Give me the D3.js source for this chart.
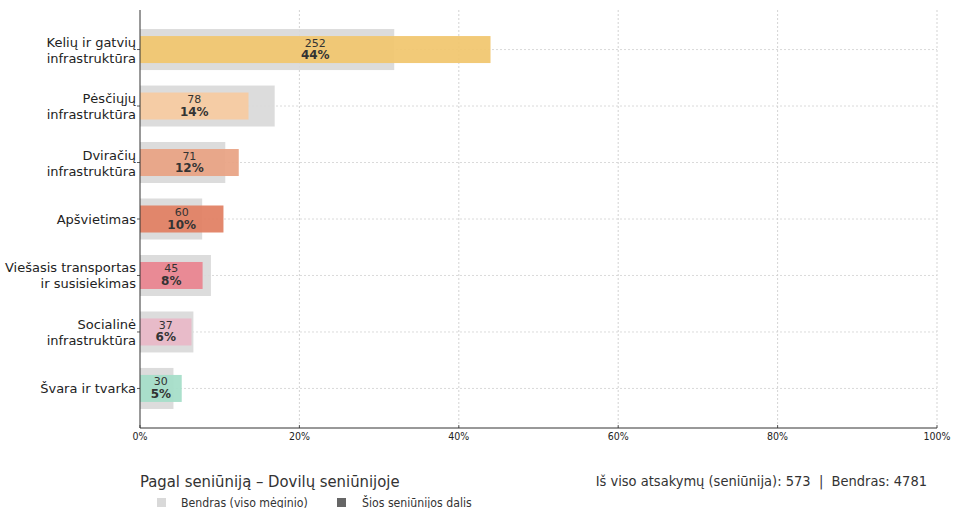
<!DOCTYPE html>
<html><head><meta charset="utf-8">
<script src="https://cdn.jsdelivr.net/npm/d3@7"></script>
<style>body{margin:0;background:#fff;} svg{display:block;}</style>
</head><body>
<script>
const categories = [
  ["Kelių ir gatvių","infrastruktūra"],
  ["Pėsčiųjų","infrastruktūra"],
  ["Dviračių","infrastruktūra"],
  ["Apšvietimas"],
  ["Viešasis transportas","ir susisiekimas"],
  ["Socialinė","infrastruktūra"],
  ["Švara ir tvarka"]
];
const counts = [252, 78, 71, 60, 45, 37, 30];
const totalLocal = 573;
const totalAll = 4781;
const overallPct = [31.9, 16.9, 10.7, 7.8, 8.9, 6.7, 4.2];
const colors = ["#f1c66e","#f6caa0","#e8a283","#e17f62","#e9838f","#e8b8c7","#a5dec8"];
const xTicks = [0, 20, 40, 60, 80, 100];
const title = "Pagal seniūniją – Dovilų seniūnijoje";
const legendLabels = ["Bendras (viso mėginio)", "Šios seniūnijos dalis"];

(function(){
const W = 953, H = 508;
const pl = 140, pr = 937, pt = 10, pb = 428;
const svg = d3.select("body").append("svg").attr("width", W).attr("height", H);
const x = d3.scaleLinear().domain([0, 100]).range([pl, pr]);
const idx = d3.range(categories.length);
const y = d3.scalePoint().domain(idx).range([pt, pb]).padding(0.7);
const font = "DejaVu Sans, sans-serif";

// grid
const g = svg.append("g");
g.selectAll(".vg").data(xTicks.slice(1)).join("line")
  .attr("x1", d => x(d)).attr("x2", d => x(d)).attr("y1", pt).attr("y2", pb)
  .attr("stroke", "#c8c8c8").attr("stroke-width", 0.8).attr("stroke-dasharray", "2,2");
g.selectAll(".hg").data(idx).join("line")
  .attr("x1", pl).attr("x2", pr).attr("y1", d => y(d)).attr("y2", d => y(d))
  .attr("stroke", "#d0d0d0").attr("stroke-width", 0.8).attr("stroke-dasharray", "2,2");

// bars
const gh = 41, ch = 27;
svg.selectAll(".gb").data(idx).join("rect")
  .attr("x", x(0)).attr("y", d => y(d) - gh/2)
  .attr("width", d => x(overallPct[d]) - x(0)).attr("height", gh)
  .attr("fill", "#d9d9d9").attr("opacity", 0.92);
svg.selectAll(".cb").data(idx).join("rect")
  .attr("x", x(0)).attr("y", d => y(d) - ch/2)
  .attr("width", d => x(counts[d] / totalLocal * 100) - x(0)).attr("height", ch)
  .attr("fill", d => colors[d]).attr("opacity", 0.93);

// value labels
idx.forEach(i => {
  const p = counts[i] / totalLocal * 100;
  const cx = (x(0) + x(p)) / 2;
  svg.append("text").attr("x", cx).attr("y", y(i) - 3).attr("text-anchor", "middle")
    .attr("font-family", font).attr("font-size", 11).attr("fill", "#333").text(counts[i]);
  svg.append("text").attr("x", cx).attr("y", y(i) + 9.5).attr("text-anchor", "middle")
    .attr("font-family", font).attr("font-size", 12).attr("font-weight", "bold").attr("fill", "#333")
    .text(Math.round(p) + "%");
});

// y axis
svg.append("line").attr("x1", pl).attr("x2", pl).attr("y1", pt).attr("y2", pb)
  .attr("stroke", "#333").attr("stroke-width", 1);
svg.selectAll(".yt").data(idx).join("line")
  .attr("x1", pl - 3).attr("x2", pl).attr("y1", d => y(d)).attr("y2", d => y(d))
  .attr("stroke", "#333").attr("stroke-width", 0.8);
idx.forEach(i => {
  const lines = categories[i];
  const lh = 16;
  const t = svg.append("text").attr("text-anchor", "end").attr("font-family", font)
    .attr("font-size", 13).attr("fill", "#222");
  lines.forEach((s, k) => {
    t.append("tspan").attr("x", pl - 4)
      .attr("y", y(i) + 5 + (k - (lines.length - 1) / 2) * lh).text(s);
  });
});

// x axis
svg.append("line").attr("x1", pl).attr("x2", pr).attr("y1", pb).attr("y2", pb)
  .attr("stroke", "#333").attr("stroke-width", 1);
svg.selectAll(".xt").data(xTicks).join("line")
  .attr("x1", d => x(d)).attr("x2", d => x(d)).attr("y1", pb).attr("y2", pb - 3)
  .attr("stroke", "#333").attr("stroke-width", 0.8);
svg.selectAll(".xl").data(xTicks).join("text")
  .attr("x", d => x(d)).attr("y", pb + 12).attr("text-anchor", "middle")
  .attr("font-family", font).attr("font-size", 10.5).attr("font-stretch", "condensed")
  .attr("fill", "#222").text(d => d + "%");

// footer
svg.append("text").attr("x", 140).attr("y", 487).attr("font-family", font)
  .attr("font-size", 16.5).attr("font-stretch", "condensed").attr("fill", "#333").text(title);
svg.append("text").attr("x", 927).attr("y", 486).attr("text-anchor", "end").attr("font-family", font)
  .attr("font-size", 14.5).attr("font-stretch", "condensed").attr("fill", "#333")
  .style("white-space", "pre")
  .text("Iš viso atsakymų (seniūnija): " + totalLocal + "  |  Bendras: " + totalAll);
const leg = [[157, "#d9d9d9", legendLabels[0], 181], [337, "#666", legendLabels[1], 362]];
leg.forEach(([lx, c, s, tx]) => {
  svg.append("rect").attr("x", lx).attr("y", 498).attr("width", 9).attr("height", 9).attr("fill", c);
  svg.append("text").attr("x", tx).attr("y", 506.5).attr("font-family", font).attr("font-size", 12.2)
    .attr("font-stretch", "condensed").attr("fill", "#333").text(s);
});
})();
</script>
</body></html>
